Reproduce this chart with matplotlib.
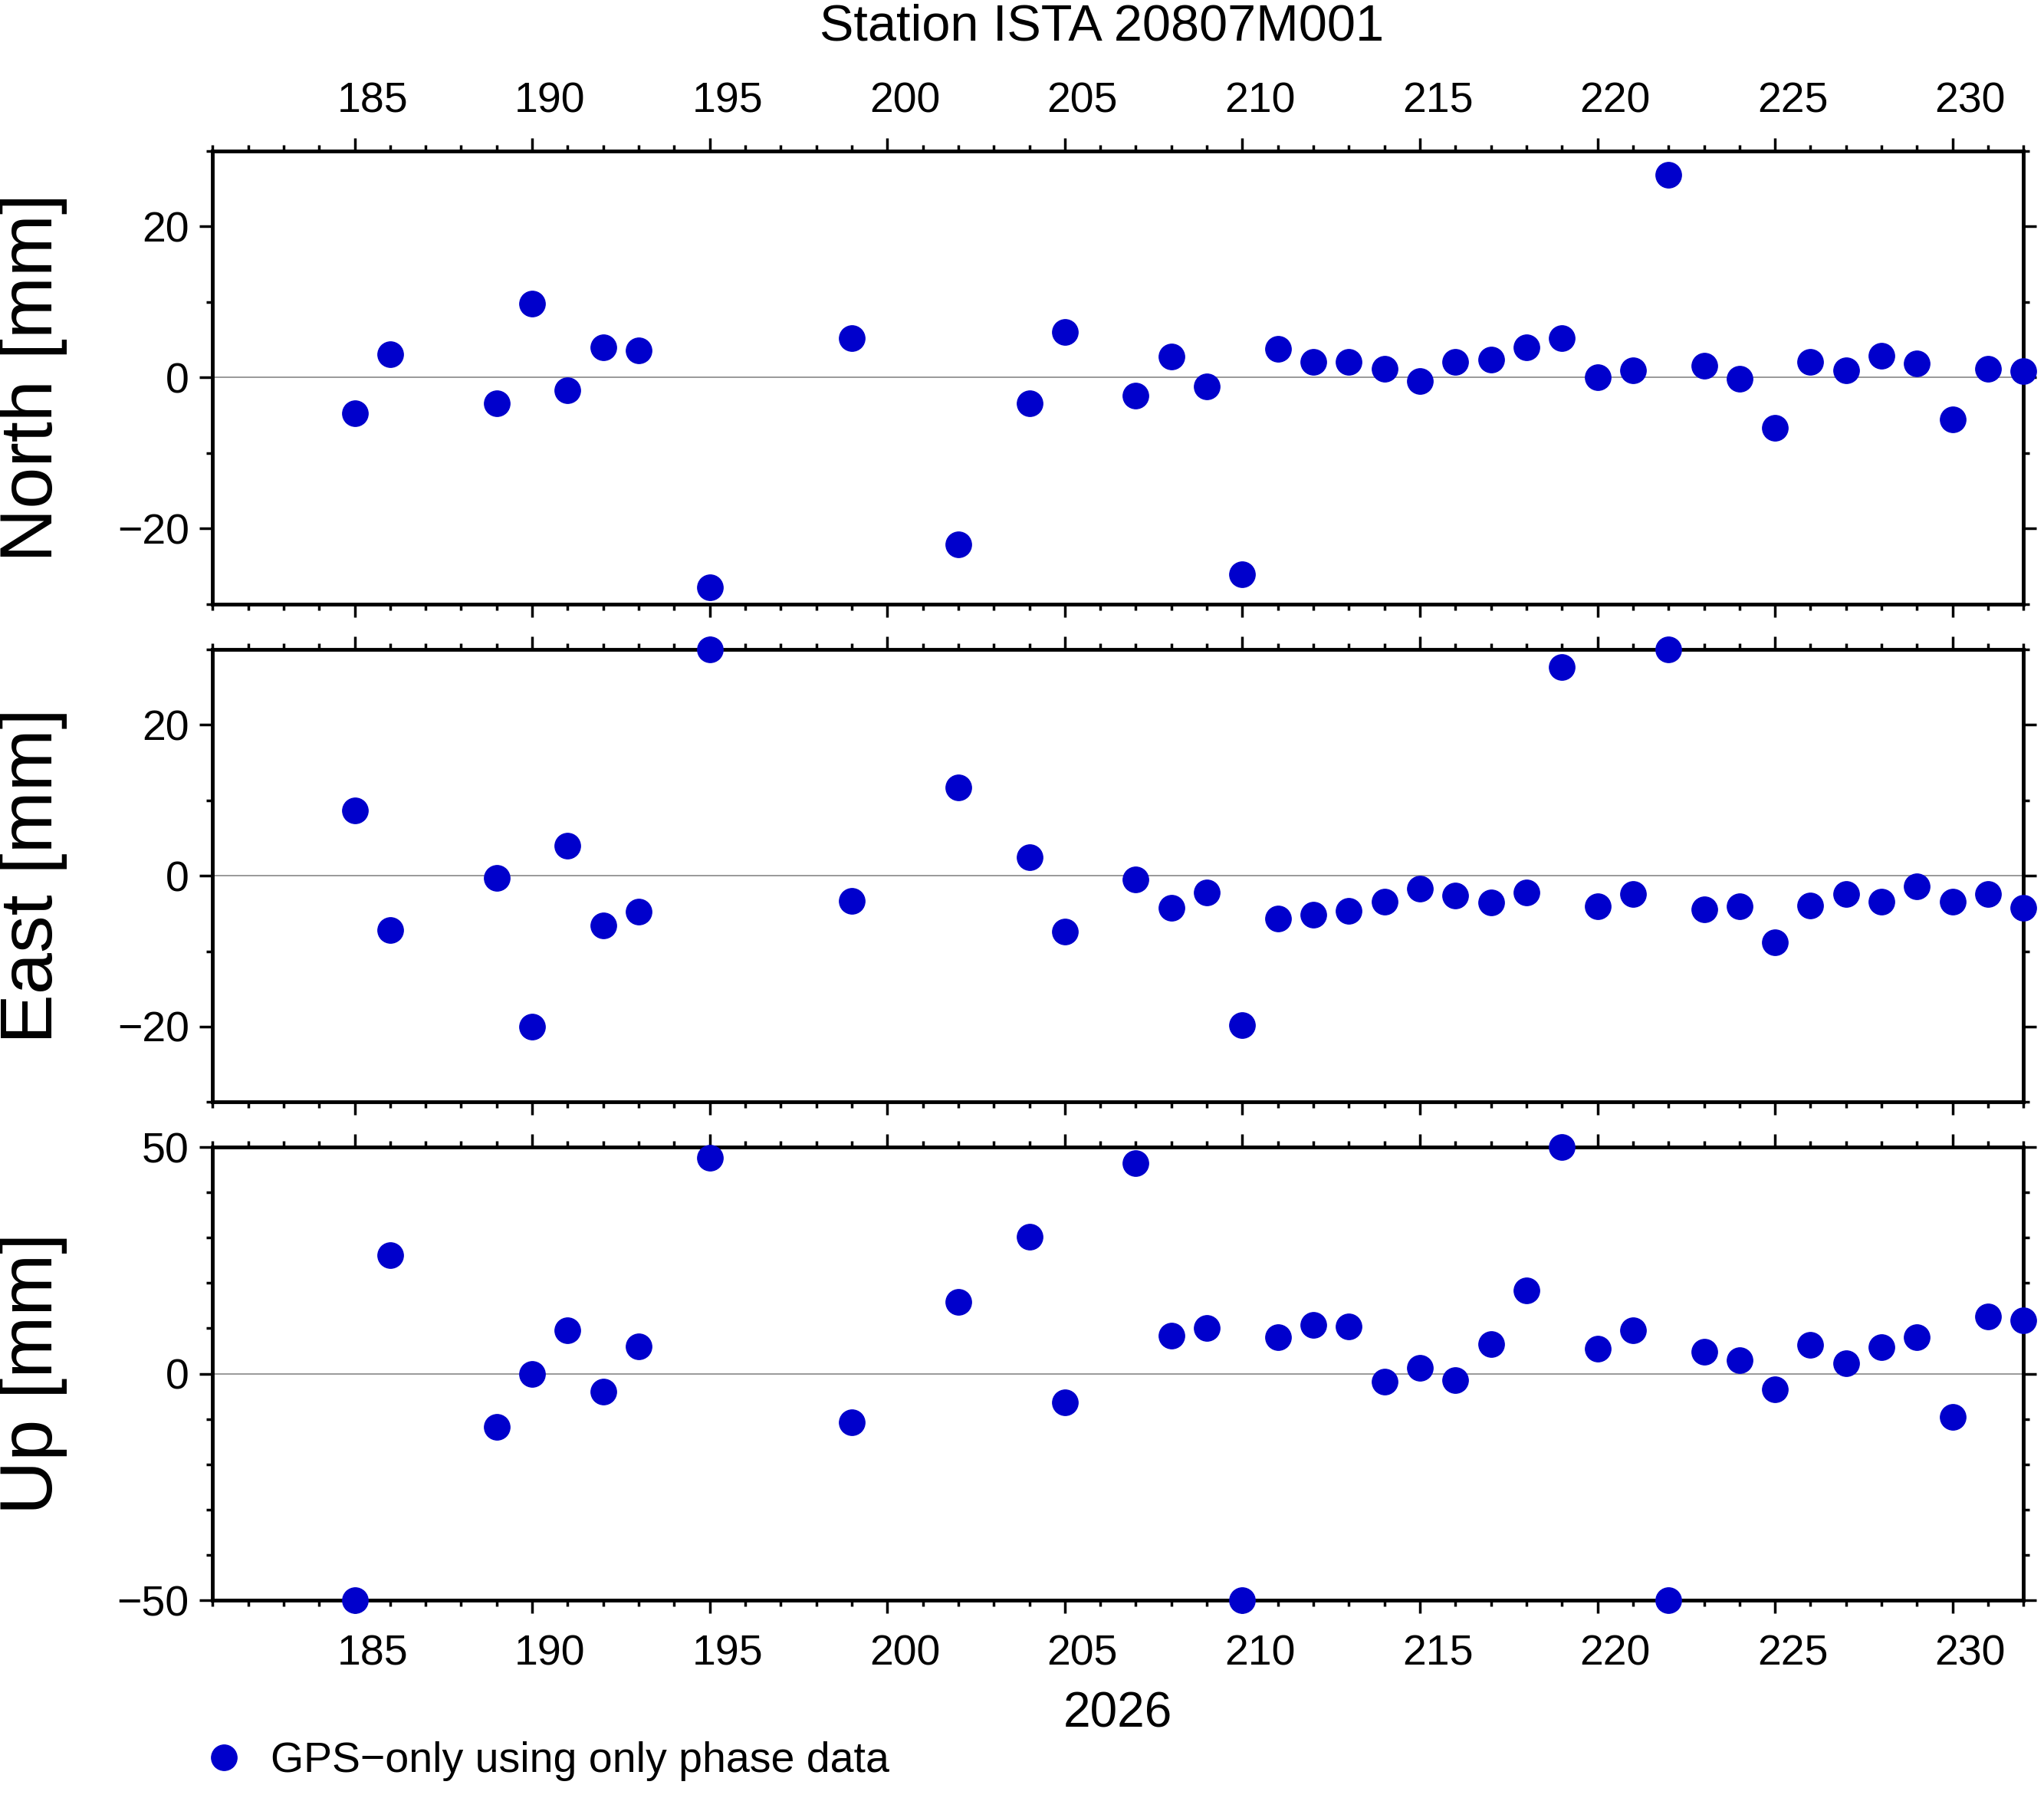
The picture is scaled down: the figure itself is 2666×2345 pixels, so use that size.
import matplotlib
matplotlib.use("Agg")
import matplotlib.pyplot as plt
import matplotlib.transforms as mtransforms
from matplotlib.ticker import MultipleLocator
from matplotlib.lines import Line2D

plt.rcParams['font.family'] = ['Liberation Sans', 'DejaVu Sans']

days = [185, 186, 189, 190, 191, 192, 193, 195, 199, 202, 204, 205, 207, 208, 209, 210,
        211, 212, 213, 214, 215, 216, 217, 218, 219, 220, 221, 222, 223, 224, 225, 226,
        227, 228, 229, 230, 231, 232]
north = [-4.7, 3.1, -3.4, 9.8, -1.7, 4.0, 3.6, -27.8, 5.2, -22.1, -3.4, 6.0, -2.4, 2.8, -1.2, -26.0,
         3.8, 2.1, 2.1, 1.2, -0.5, 2.1, 2.4, 4.0, 5.2, 0.0, 1.0, 26.9, 1.6, -0.2, -6.7, 2.1,
         1.0, 2.9, 1.9, -5.5, 1.2, 0.9]
east = [8.6, -7.2, -0.3, -20.0, 4.0, -6.6, -4.8, 30.0, -3.3, 11.7, 2.4, -7.4, -0.5, -4.3, -2.2, -19.8,
        -5.7, -5.2, -4.7, -3.4, -1.7, -2.6, -3.6, -2.2, 27.6, -4.1, -2.4, 30.0, -4.5, -4.1, -8.8, -4.0,
        -2.4, -3.4, -1.4, -3.4, -2.4, -4.3]
up = [-50.0, 26.2, -11.8, 0.0, 9.5, -4.0, 6.1, 47.6, -10.7, 15.9, 30.3, -6.3, 46.4, 8.4, 10.1, -50.0,
      8.1, 10.7, 10.4, -1.7, 1.2, -1.4, 6.6, 18.4, 50.0, 5.5, 9.5, -50.0, 4.9, 2.9, -3.5, 6.3,
      2.3, 5.8, 8.1, -9.5, 12.7, 11.8]
major_days = [185, 190, 195, 200, 205, 210, 215, 220, 225, 230]

color = '#0000CC'
fig = plt.figure(figsize=(26.66, 23.45), dpi=100)
left, width = 0.104, 0.886
panels = [
    ("North [mm]", north, 30, 20, 10, 0.664),
    ("East [mm]", east, 30, 20, 10, 0.387),
    ("Up [mm]", up, 50, 50, 10, 0.110),
]
for i, (lab, vals, lim, maj, mnr, bot) in enumerate(panels):
    ax = fig.add_axes([left, bot, width, 0.252])
    ax.axhline(0, color='#888888', lw=1.2, zorder=1)
    ax.plot(days, vals, 'o', color=color, ms=24, clip_on=False, zorder=3)
    ax.set_xlim(181, 232)
    ax.set_ylim(-lim, lim)
    ax.yaxis.set_major_locator(MultipleLocator(maj))
    ax.yaxis.set_minor_locator(MultipleLocator(mnr))
    ax.set_xticks(major_days)
    ax.set_xticklabels([])
    ax.xaxis.set_minor_locator(MultipleLocator(1))
    ax.tick_params(which='both', direction='out', top=True, right=True, width=2.5,
                   labelsize=40, pad=10)
    ax.tick_params(which='major', length=12)
    ax.tick_params(which='minor', length=6)
    for s in ax.spines.values():
        s.set_linewidth(3.5)
    ax.set_ylabel(lab, fontsize=70)
    ax.yaxis.set_label_coords(-0.08, 0.5)
    trans = mtransforms.blended_transform_factory(ax.transData, ax.transAxes)
    if i == 0:
        for d in major_days:
            ax.text(d + 0.5, 1.065, str(d), transform=trans, ha='center', va='bottom', fontsize=40)
    if i == 2:
        for d in major_days:
            ax.text(d + 0.5, -0.075, str(d), transform=trans, ha='center', va='top', fontsize=40)
        ax.text(0.5, -0.2, "2026", transform=ax.transAxes, ha='center', va='top', fontsize=46)

fig.text(0.539, 0.985, "Station ISTA 20807M001", ha='center', va='center', fontsize=48)
handle = Line2D([], [], marker='o', ls='none', color=color, ms=24)
fig.legend([handle], ["GPS\u2212only using only phase data"], loc='lower left',
           bbox_to_anchor=(0.07, -0.012), frameon=False, fontsize=40, handletextpad=0.1)
fig.savefig("out.png", dpi=100)
